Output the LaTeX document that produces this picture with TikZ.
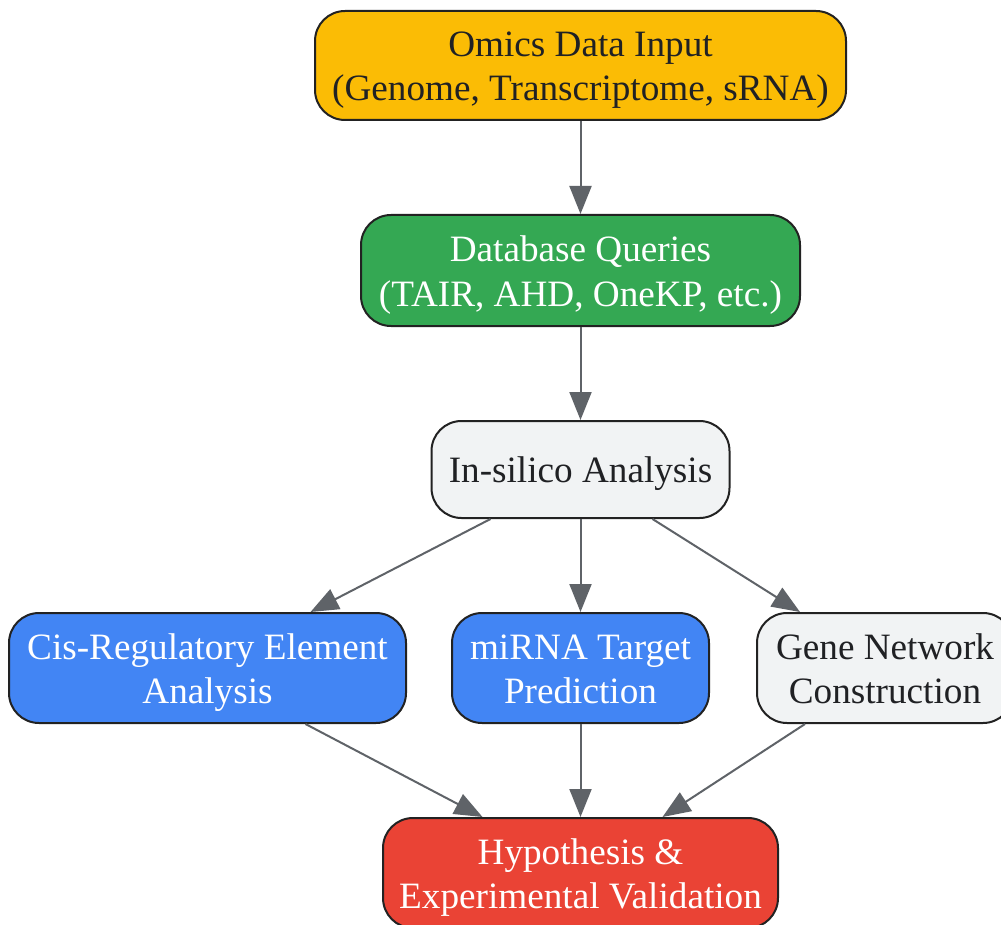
\documentclass[tikz,border=0pt]{standalone}
\usepackage{fontspec}
\setmainfont{Liberation Serif}
\usetikzlibrary{arrows.meta}
\definecolor{cyellow}{HTML}{FBBC05}
\definecolor{cgreen}{HTML}{34A853}
\definecolor{cblue}{HTML}{4285F4}
\definecolor{cred}{HTML}{EA4335}
\definecolor{cgrey}{HTML}{F1F3F4}
\definecolor{cborder}{HTML}{222222}
\definecolor{carrow}{HTML}{5F6368}
\definecolor{ctext}{HTML}{202124}
\tikzset{
  box/.style={draw=cborder, line width=2pt, rounded corners=30pt, align=center,
    inner sep=0pt, font=\fontsize{37.2}{44}\selectfont},
  twoline/.style={text height=78.6pt, text depth=7.6pt},
  oneline/.style={text height=34pt, text depth=7.6pt},
  darktext/.style={text=ctext},
  lighttext/.style={text=white},
  conn/.style={draw=carrow, line width=2pt, -{Triangle[length=28pt,width=22pt]}},
}
\begin{document}
\begin{tikzpicture}[x=1pt,y=-1pt]
\useasboundingbox (0,0) rectangle (1001,925);
\clip (0,0) rectangle (1001,925);
\node[box, twoline, darktext, fill=cyellow, minimum width=531pt, minimum height=109pt] (omics) at (580.5,65.5)
  {Omics Data Input\\(Genome, Transcriptome, sRNA)};
\node[box, twoline, lighttext, fill=cgreen, minimum width=439pt, minimum height=111pt] (db) at (580.5,270.5)
  {Database Queries\\(TAIR, AHD, OneKP, etc.)};
\node[box, oneline, darktext, fill=cgrey, minimum width=298pt, minimum height=97pt] (ins) at (580.5,469.5)
  {In-silico Analysis};
\node[box, twoline, lighttext, fill=cblue, minimum width=397pt, minimum height=110pt] (cis) at (207.5,668)
  {Cis-Regulatory Element\\Analysis};
\node[box, twoline, lighttext, fill=cblue, minimum width=257pt, minimum height=110pt] (mir) at (580.5,668)
  {miRNA Target\\Prediction};
\node[box, twoline, darktext, fill=cgrey, minimum width=256pt, minimum height=110pt] (gene) at (885,668)
  {Gene Network\\Construction};
\node[box, twoline, lighttext, fill=cred, minimum width=395pt, minimum height=110pt] (hyp) at (580.5,873)
  {Hypothesis \&\\Experimental Validation};
\draw[conn] (omics) -- (db);
\draw[conn] (db) -- (ins);
\draw[conn] ([xshift=-90pt]ins.south) -- ([xshift=103pt]cis.north);
\draw[conn] (ins) -- (mir);
\draw[conn] ([xshift=72pt]ins.south) -- ([xshift=-85pt]gene.north);
\draw[conn] ([xshift=98pt]cis.south) -- ([xshift=-98pt]hyp.north);
\draw[conn] (mir) -- (hyp);
\draw[conn] ([xshift=-80pt]gene.south) -- ([xshift=82pt]hyp.north);
\end{tikzpicture}
\end{document}
